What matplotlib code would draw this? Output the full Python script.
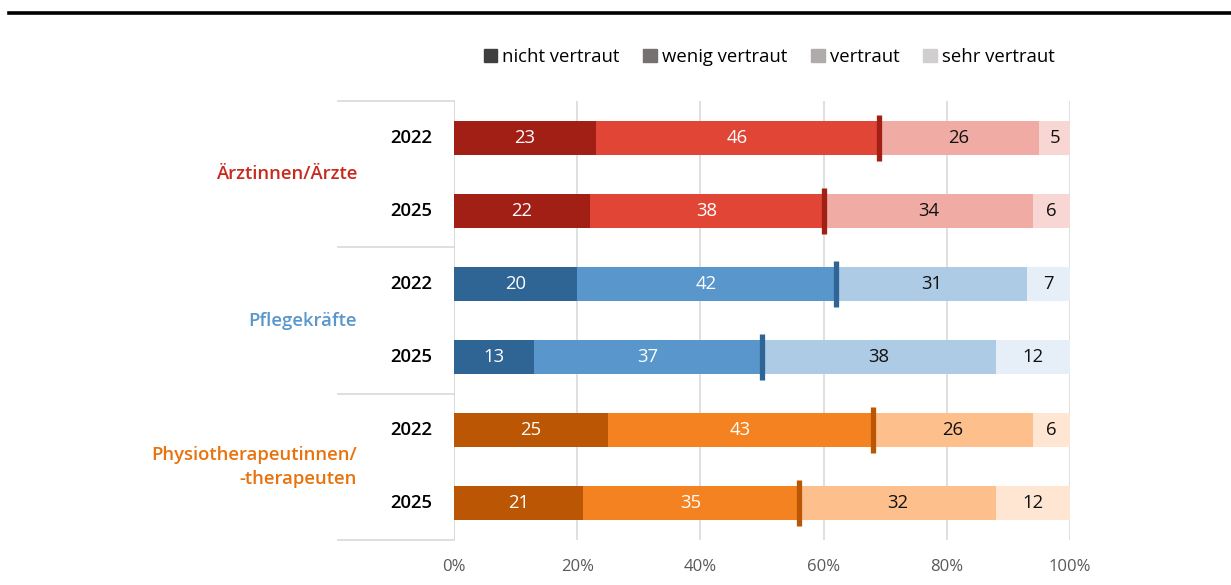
import matplotlib.pyplot as plt
from matplotlib.patches import Rectangle
from matplotlib.lines import Line2D
import matplotlib.transforms as mtransforms

plt.rcParams['font.family'] = ['Open Sans', 'DejaVu Sans']

groups = ['Ärztinnen/Ärzte', 'Pflegekräfte', 'Physiotherapeutinnen/\n-therapeuten']
years = ['2022', '2025']
levels = ['nicht vertraut', 'wenig vertraut', 'vertraut', 'sehr vertraut']

nicht = [23, 22, 20, 13, 25, 21]
wenig = [46, 38, 42, 37, 43, 35]
vertraut = [26, 34, 31, 38, 26, 32]
sehr = [5, 6, 7, 12, 6, 12]

palettes = [
    ['#A21F15', '#E04535', '#F0ABA5', '#F8D6D3'],
    ['#2E6594', '#5896CB', '#AECBE5', '#E6EFF8'],
    ['#BA5604', '#F58220', '#FDC08D', '#FFE6D3'],
]
group_colors = ['#C62B1E', '#5896CB', '#E8720C']
legend_colors = ['#3F3F3F', '#767171', '#AFABAB', '#D0CECE']
text_colors = ['white', 'white', '#111111', '#111111']

fig = plt.figure(figsize=(12.31, 5.85), dpi=100)
ax = fig.add_axes([454 / 1231, 1 - 540 / 585, 616 / 1231, 439 / 585])

series = [nicht, wenig, vertraut, sehr]
for i in range(6):
    pal = palettes[i // 2]
    left = 0
    for k, vals in enumerate(series):
        v = vals[i]
        ax.barh(i, v, left=left, height=0.465, color=pal[k], zorder=2)
        ax.text(left + v / 2, i, str(v), ha='center', va='center',
                fontsize=13.3, color=text_colors[k], zorder=3)
        left += v
    pos = nicht[i] + wenig[i]
    ax.plot([pos, pos], [i - 0.315, i + 0.315], color=pal[0], lw=3.8,
            solid_capstyle='butt', zorder=4)

ax.set_xlim(0, 100)
ax.set_ylim(5.5, -0.5)
ax.set_xticks([0, 20, 40, 60, 80, 100])
ax.set_xticklabels([f'{t}%' for t in [0, 20, 40, 60, 80, 100]])
ax.tick_params(axis='x', length=0, labelsize=12, labelcolor='#595959', pad=14)
ax.set_yticks([])
for s in ax.spines.values():
    s.set_visible(False)
ax.grid(axis='x', color='#D9D9D9', lw=1.2, zorder=0)
ax.axvline(0, color='#D9D9D9', lw=1.2, zorder=1)

trans = mtransforms.blended_transform_factory(ax.transAxes, ax.transData)
for yb in [-0.5, 1.5, 3.5, 5.5]:
    ax.plot([-116 / 616, 0], [yb, yb], color='#D9D9D9', lw=1.2,
            transform=trans, clip_on=False)

for i in range(6):
    ax.text(-22 / 616, i, years[i % 2], transform=trans, ha='right', va='center',
            fontsize=13.3, fontweight='semibold', color='black')

for g, name in enumerate(groups):
    ax.text(-97 / 616, 2 * g + 0.5, name, transform=trans, ha='right', va='center',
            fontsize=13.3, fontweight='semibold', color=group_colors[g], linespacing=1.4)

handles = [Rectangle((0, 0), 1, 1, color=c) for c in legend_colors]
fig.legend(handles, levels, loc='center', bbox_to_anchor=(769 / 1231, 1 - 57 / 585),
           ncol=4, frameon=False, fontsize=13.3, handlelength=0.75, handleheight=0.75,
           handletextpad=0.25, columnspacing=1.3)

fig.add_artist(Line2D([9 / 1231, 1], [1 - 13 / 585, 1 - 13 / 585], color='black', lw=2.6))

fig.savefig('out.png', dpi=100)
